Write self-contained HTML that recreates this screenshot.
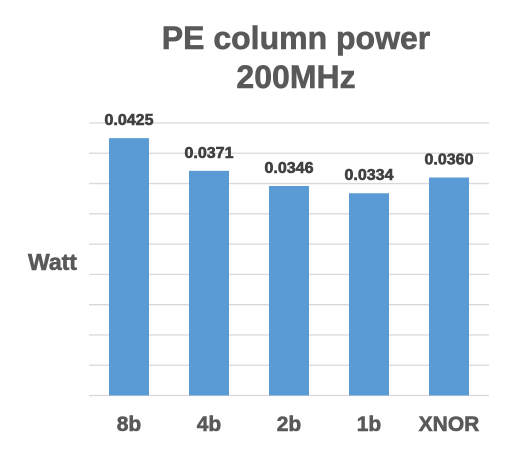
<!DOCTYPE html>
<html><head><meta charset="utf-8"><style>
body{margin:0;background:#fff;}
svg{display:block;font-family:"Liberation Sans",Arial,sans-serif;font-weight:bold;}
.th{stroke-width:0.6;}
</style></head><body>
<svg width="513" height="449">
<text class="th" x="296" y="49" text-anchor="middle" font-size="32" fill="#595959" stroke="#595959">PE column power</text>
<text class="th" x="296" y="88" text-anchor="middle" font-size="32" fill="#595959" stroke="#595959">200MHz</text>
<text class="th" x="28" y="270" font-size="23" fill="#595959" stroke="#595959">Watt</text>
<g id="grid"></g><g id="bars"></g><g id="labels"></g>
</svg>
<script>
const categories=["8b","4b","2b","1b","XNOR"];
const values=[0.0425,0.0371,0.0346,0.0334,0.0360];
const labels=["0.0425","0.0371","0.0346","0.0334","0.0360"];
const yMax=0.045, yStep=0.005;
const ns="http://www.w3.org/2000/svg";
const x0=89,x1=489,yTop=123,yBot=395.5;
const y=v=>yBot-(v/yMax)*(yBot-yTop);
const bw=(x1-x0)/categories.length;
const grid=document.getElementById('grid'),bars=document.getElementById('bars'),lab=document.getElementById('labels');
for(let i=0;i<=Math.round(yMax/yStep);i++){
 const l=document.createElementNS(ns,'line');
 const yy=y(i*yStep);
 l.setAttribute('x1',x0);l.setAttribute('x2',x1);l.setAttribute('y1',yy);l.setAttribute('y2',yy);
 l.setAttribute('stroke','#d9d9d9');l.setAttribute('stroke-width','1.3');
 
 
 grid.appendChild(l);
}
categories.forEach((c,i)=>{
 const cx=x0+bw*(i+0.5);
 const r=document.createElementNS(ns,'rect');
 r.setAttribute('x',cx-20);r.setAttribute('width',40);
 r.setAttribute('y',y(values[i]));r.setAttribute('height',yBot-y(values[i]));
 r.setAttribute('fill','#5b9bd5');
 
 
 bars.appendChild(r);
 const t=document.createElementNS(ns,'text');
 t.setAttribute('x',cx);t.setAttribute('y',y(values[i])-13);
 t.setAttribute('text-anchor','middle');t.setAttribute('font-size','16');t.setAttribute('fill','#404040');
 t.setAttribute('stroke','#404040');t.setAttribute('class','th');
 t.textContent=labels[i];
 
 
 lab.appendChild(t);
 const xt=document.createElementNS(ns,'text');
 xt.setAttribute('x',cx);xt.setAttribute('y',431);
 xt.setAttribute('text-anchor','middle');xt.setAttribute('font-size','21');xt.setAttribute('fill','#595959');
 xt.setAttribute('stroke','#595959');xt.setAttribute('class','th');
 xt.textContent=c;
 
 
 lab.appendChild(xt);
});
</script>
</body></html>
